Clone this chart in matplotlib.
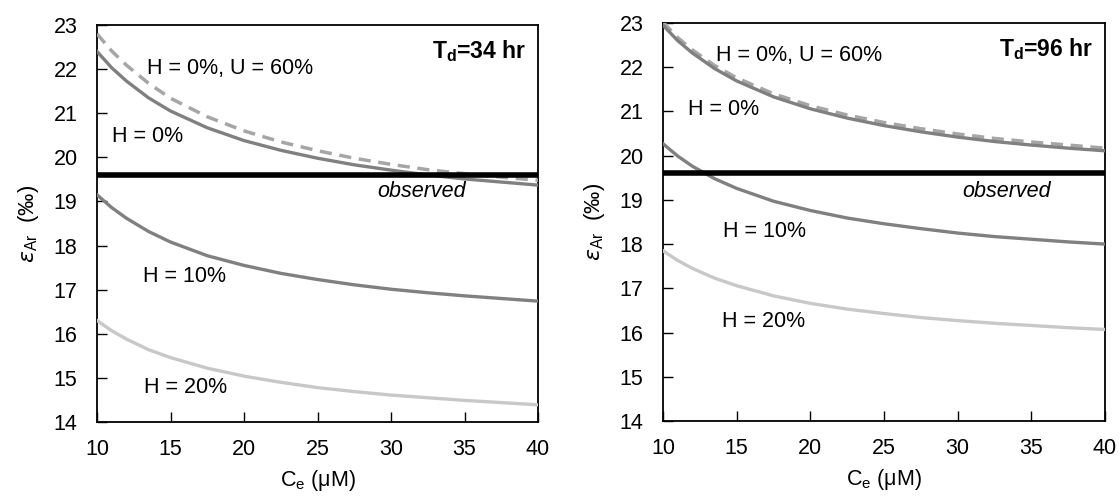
"""
Isotope fractionation vs. effective concentration for two doubling times.
"""

import matplotlib.pyplot as plt

plt.rcParams["font.family"] = ["Liberation Sans", "DejaVu Sans"]

# concentration grid, uM
CE = [10, 11, 12, 13.5, 15, 17.5, 20, 22.5, 25, 27.5, 30, 32.5, 35, 37.5, 40]

# Td = 34 hr
L_H0 = [22.40, 22.03, 21.73, 21.35, 21.05, 20.67, 20.38, 20.16, 19.98, 19.83, 19.71, 19.60, 19.51, 19.44, 19.37]
L_H0_U60 = [22.80, 22.41, 22.09, 21.68, 21.34, 20.92, 20.60, 20.35, 20.15, 19.98, 19.84, 19.72, 19.63, 19.55, 19.48]
L_H10 = [19.15, 18.86, 18.62, 18.32, 18.08, 17.77, 17.55, 17.37, 17.23, 17.11, 17.01, 16.93, 16.86, 16.80, 16.74]
L_H20 = [16.30, 16.07, 15.88, 15.64, 15.46, 15.22, 15.04, 14.90, 14.78, 14.69, 14.61, 14.55, 14.49, 14.44, 14.39]

# Td = 96 hr
R_H0 = [22.95, 22.60, 22.32, 21.97, 21.69, 21.33, 21.06, 20.85, 20.68, 20.54, 20.42, 20.32, 20.24, 20.17, 20.11]
R_H0_U60 = [23.02, 22.67, 22.39, 22.04, 21.76, 21.40, 21.13, 20.92, 20.75, 20.61, 20.49, 20.39, 20.31, 20.24, 20.17]
R_H10 = [20.27, 19.99, 19.76, 19.48, 19.26, 18.97, 18.76, 18.59, 18.46, 18.35, 18.25, 18.17, 18.11, 18.05, 18.00]
R_H20 = [17.85, 17.63, 17.45, 17.23, 17.06, 16.83, 16.66, 16.53, 16.43, 16.34, 16.27, 16.21, 16.16, 16.11, 16.07]

OBSERVED = 19.6

PANELS = [
    {"title": "34", "h0": L_H0, "u60": L_H0_U60, "h10": L_H10, "h20": L_H20,
     "labels": [(13.4, 22.02), (11.0, 20.47), (29.1, 19.22), (13.1, 17.29), (13.2, 14.78)]},
    {"title": "96", "h0": R_H0, "u60": R_H0_U60, "h10": R_H10, "h20": R_H20,
     "labels": [(13.6, 22.26), (11.7, 21.05), (30.3, 19.2), (14.1, 18.29), (14.0, 16.26)]},
]


fig = plt.figure(figsize=(11.2, 5), dpi=100)
axes = [fig.add_axes([97 / 1120, 78 / 500, 441 / 1120, 397 / 500]),
        fig.add_axes([663 / 1120, 79 / 500, 442 / 1120, 398 / 500])]

for ax, p in zip(axes, PANELS):
    ax.plot(CE, p["u60"], color="#a6a6a6", lw=2.5, ls=(0, (3.5, 2.2)), zorder=3)
    ax.plot(CE, p["h0"], color="#808080", lw=2.4, zorder=3)
    ax.plot(CE, p["h10"], color="#808080", lw=2.4, zorder=3)
    ax.plot(CE, p["h20"], color="#c8c8c8", lw=2.4, zorder=3)
    ax.axhline(OBSERVED, color="black", lw=4, zorder=4)

    texts = ["H = 0%, U = 60%", "H = 0%", "observed", "H = 10%", "H = 20%"]
    for (x, y), t in zip(p["labels"], texts):
        ax.text(x, y, t, fontsize=15.5, va="center", ha="left",
                style="italic" if t == "observed" else "normal")
    ax.text(0.973, 0.935, r"T$_\mathregular{d}$=" + p["title"] + " hr", transform=ax.transAxes,
            fontsize=16.5, fontweight="bold", ha="right", va="center")

    ax.set_xlim(10, 40)
    ax.set_ylim(14, 23)
    ax.set_xticks(range(10, 41, 5))
    ax.set_yticks(range(14, 24))
    ax.tick_params(direction="in", length=7, width=1, labelsize=15.5)
    ax.tick_params(axis="x", pad=12)
    ax.tick_params(axis="y", pad=14)
    for s in ax.spines.values():
        s.set_linewidth(1.3)
    ax.set_xlabel(r"C$_\mathregular{e}$ ($\mathregular{\mu}$M)", fontsize=15.5, labelpad=6)
    ax.set_ylabel(r"$\varepsilon_{\mathregular{Ar}}$  (‰)", fontsize=16, labelpad=9)

plt.savefig("out.png", dpi=100)
print("Saved out.png")
